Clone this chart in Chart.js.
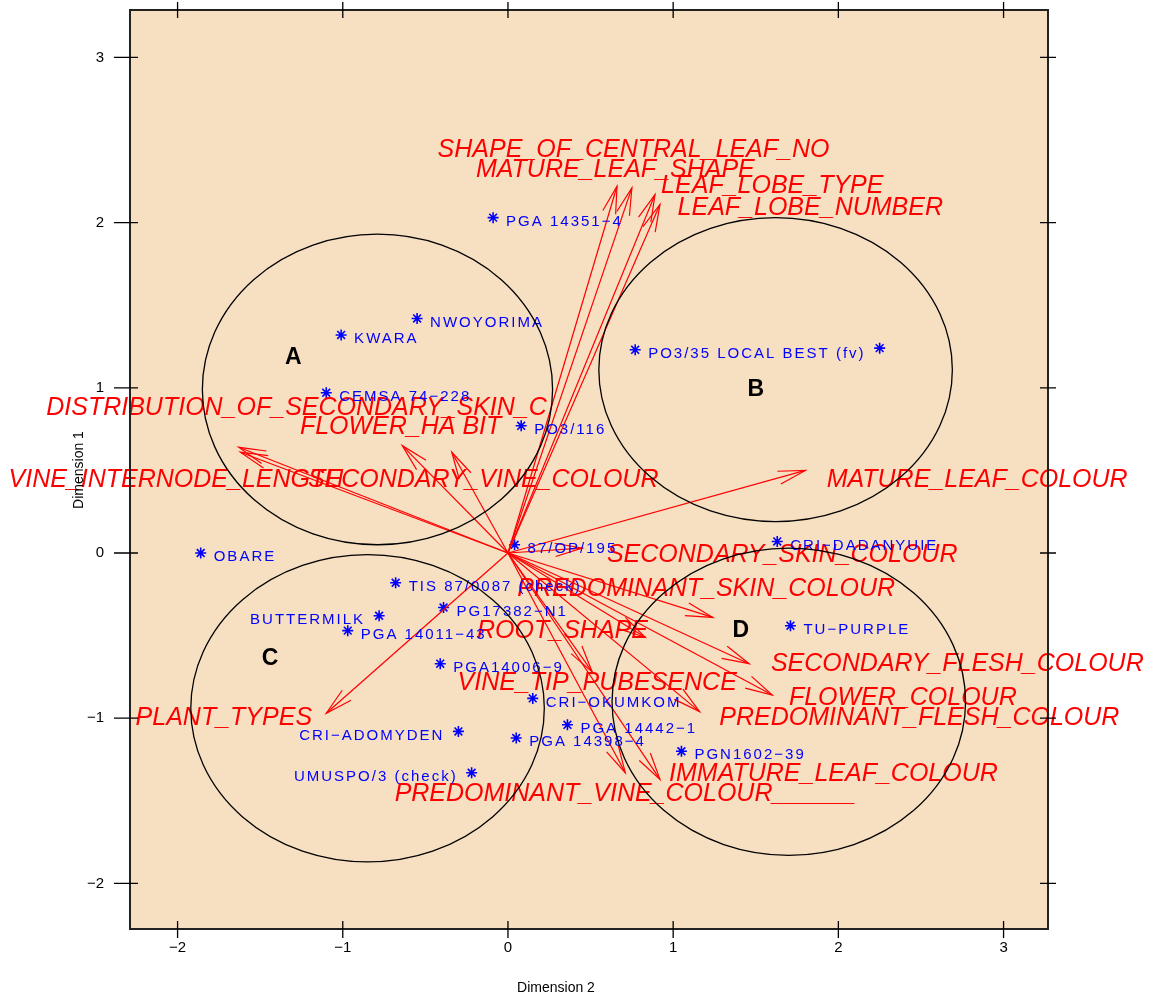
<!DOCTYPE html>
<html><head><meta charset="utf-8">
<script src="https://cdn.jsdelivr.net/npm/chart.js@4.4.0/dist/chart.umd.min.js"></script>
<style>html,body{margin:0;padding:0;background:#fff;}canvas{display:block;}</style>
</head><body>
<canvas id="c" width="1157" height="998"></canvas>
<script>
// ---- data ----
const genotypes = ['PGA 14351\u22124','NWOYORIMA','KWARA','CEMSA 74\u2212228','PO3/116','PO3/35 LOCAL BEST (fv)','','87/OP/195','CRI\u2212DADANYUIE','OBARE','TIS 87/0087 (check)','BUTTERMILK','PG17382\u2212N1','PGA 14011\u221243','TU\u2212PURPLE','PGA14006\u22129','CRI\u2212OKUMKOM','PGA 14442\u22121','PGA 14398\u22124','CRI\u2212ADOMYDEN','UMUSPO/3 (check)','PGN1602\u221239'];
const genoX = [-0.09,-0.55,-1.01,-1.10,0.08,0.77,2.25,0.04,1.63,-1.86,-0.68,-0.78,-0.39,-0.97,1.71,-0.41,0.15,0.36,0.05,-0.30,-0.22,1.05];
const genoY = [2.03,1.42,1.32,0.97,0.77,1.23,1.24,0.05,0.07,0.00,-0.18,-0.38,-0.33,-0.47,-0.44,-0.67,-0.88,-1.04,-1.12,-1.08,-1.33,-1.20];
const labelSide = ['r','r','r','r','r','r','r','r','r','r','r','l','r','r','r','r','r','r','r','l','l','r'];

const variables = ['SHAPE_OF_CENTRAL_LEAF_NO','MATURE_LEAF_SHAPE','LEAF_LOBE_TYPE','LEAF_LOBE_NUMBER','DISTRIBUTION_OF_SECONDARY_SKIN_C','FLOWER_HA BIT','VINE_INTERNODE_LENGTH','SECONDARY_VINE_COLOUR','MATURE_LEAF_COLOUR','SECONDARY_SKIN_COLOUR','PREDOMINANT_SKIN_COLOUR','ROOT_SHAPE','SECONDARY_FLESH_COLOUR','VINE_TIP_PUBESENCE','FLOWER_COLOUR','PREDOMINANT_FLESH_COLOUR','PLANT_TYPES','IMMATURE_LEAF_COLOUR','PREDOMINANT_VINE_COLOUR______'];
const varX = [0.66,0.75,0.89,0.92,-1.63,-0.64,-1.62,-0.34,1.80,0.45,1.24,0.83,1.46,0.51,1.60,1.16,-1.10,0.92,0.71];
const varY = [2.22,2.21,2.17,2.11,0.64,0.65,0.61,0.61,0.50,0.03,-0.39,-0.51,-0.67,-0.72,-0.86,-0.96,-0.97,-1.37,-1.33];
const varLabelX = [0.76,0.65,1.60,1.83,-1.28,-0.65,-2.01,-0.15,2.84,1.66,1.20,0.33,2.72,0.54,2.39,2.49,-1.72,1.97,0.71];
const varLabelY = [2.44,2.32,2.22,2.09,0.88,0.76,0.44,0.44,0.44,-0.01,-0.22,-0.47,-0.67,-0.79,-0.88,-1.00,-1.00,-1.34,-1.46];

const groupNames = ['A','B','C','D'];
const groupCX = [-0.79,1.62,-0.85,1.70];
const groupCY = [0.99,1.11,-0.94,-0.90];
const groupRX = [1.06,1.07,1.07,1.07];
const groupRY = [0.94,0.92,0.93,0.93];
const groupLetterX = [-1.30,1.50,-1.44,1.41];
const groupLetterY = [1.18,0.99,-0.64,-0.47];

const tickValues = [-2,-1,0,1,2,3];
const xRange = [-2.288,3.269];
const yRange = [-2.276,3.287];
const xTitle = 'Dimension 2';
const yTitle = 'Dimension 1';

// ---- chart ----
const datasets = [];
variables.forEach((v,i)=>{
  datasets.push({label:v,data:[{x:0,y:0},{x:varX[i],y:varY[i]}],showLine:true,borderColor:'#FF0000',borderWidth:1.2,pointRadius:0,fill:false});
});
datasets.push({label:'genotypes',data:genoX.map((x,i)=>({x:x,y:genoY[i]})),pointStyle:'star',pointRadius:5.5,pointBorderColor:'#0000FF',pointBorderWidth:1.6,borderColor:'#0000FF',showLine:false});

const minus = v => String(v).replace('-','\u2212');

const decor = {
  id:'decor',
  beforeDraw(chart){
    const {ctx,chartArea:a}=chart;
    ctx.save();ctx.fillStyle='#F7DFC1';ctx.fillRect(a.left,a.top,a.right-a.left,a.bottom-a.top);ctx.restore();
  },
  afterDatasetsDraw(chart){
    const {ctx,chartArea:a,scales:{x,y}}=chart;
    ctx.save();
    ctx.strokeStyle='#FF0000';ctx.lineWidth=1.2;
    const ox=x.getPixelForValue(0),oy=y.getPixelForValue(0);
    varX.forEach((vx,i)=>{
      const tx=x.getPixelForValue(vx),ty=y.getPixelForValue(varY[i]);
      const ang=Math.atan2(ty-oy,tx-ox),L=28,h=0.24;
      ctx.beginPath();
      ctx.moveTo(tx-L*Math.cos(ang-h),ty-L*Math.sin(ang-h));
      ctx.lineTo(tx,ty);
      ctx.lineTo(tx-L*Math.cos(ang+h),ty-L*Math.sin(ang+h));
      ctx.stroke();
    });
    ctx.fillStyle='#FF0000';ctx.font='italic 25px "Liberation Sans", Arial, sans-serif';
    ctx.textAlign='center';ctx.textBaseline='middle';
    variables.forEach((v,i)=>{ctx.fillText(v,x.getPixelForValue(varLabelX[i]),y.getPixelForValue(varLabelY[i]));});
    ctx.fillStyle='#0000FF';ctx.font='15px "Liberation Sans", Arial, sans-serif';
    try{ctx.letterSpacing='2px';}catch(e){}
    genotypes.forEach((g,i)=>{
      if(!g) return;
      const px=x.getPixelForValue(genoX[i]),py=y.getPixelForValue(genoY[i])+4;
      if(labelSide[i]==='l'){ctx.textAlign='right';ctx.fillText(g,px-14,py);}
      else{ctx.textAlign='left';ctx.fillText(g,px+13,py);}
    });
    try{ctx.letterSpacing='0px';}catch(e){}
    ctx.strokeStyle='#000';ctx.lineWidth=1.3;
    groupNames.forEach((n,i)=>{
      const cx=x.getPixelForValue(groupCX[i]),cy=y.getPixelForValue(groupCY[i]);
      const rx=Math.abs(x.getPixelForValue(groupCX[i]+groupRX[i])-cx);
      const ry=Math.abs(y.getPixelForValue(groupCY[i]+groupRY[i])-cy);
      ctx.beginPath();ctx.ellipse(cx,cy,rx,ry,0,0,Math.PI*2);ctx.stroke();
    });
    ctx.fillStyle='#000';ctx.font='bold 23px "Liberation Sans", Arial, sans-serif';ctx.textAlign='center';
    groupNames.forEach((n,i)=>{ctx.fillText(n,x.getPixelForValue(groupLetterX[i]),y.getPixelForValue(groupLetterY[i]));});
    ctx.restore();
  },
  afterDraw(chart){
    const {ctx,chartArea:a,scales:{x,y}}=chart;
    ctx.save();
    ctx.strokeStyle='#222';ctx.lineWidth=2;
    ctx.strokeRect(a.left,a.top,a.right-a.left,a.bottom-a.top);
    ctx.lineWidth=1.3;ctx.strokeStyle='#000';
    tickValues.forEach(v=>{
      const px=x.getPixelForValue(v),py=y.getPixelForValue(v);
      ctx.beginPath();
      ctx.moveTo(px,a.top-8);ctx.lineTo(px,a.top+8);
      ctx.moveTo(px,a.bottom-8);ctx.lineTo(px,a.bottom+9);
      ctx.moveTo(a.left-16,py);ctx.lineTo(a.left+8,py);
      ctx.moveTo(a.right-8,py);ctx.lineTo(a.right+8,py);
      ctx.stroke();
    });
    ctx.fillStyle='#000';ctx.font='14px "Liberation Sans", Arial, sans-serif';
    ctx.textAlign='center';ctx.textBaseline='middle';
    ctx.fillText(xTitle,556,988);
    ctx.translate(79,470);ctx.rotate(-Math.PI/2);ctx.fillText(yTitle,0,0);
    ctx.restore();
  }
};

new Chart(document.getElementById('c'),{
  type:'scatter',
  data:{datasets:datasets},
  options:{
    responsive:false,animation:false,devicePixelRatio:1,
    layout:{padding:{top:10,right:109,left:0,bottom:0}},
    plugins:{legend:{display:false},tooltip:{enabled:false}},
    scales:{
      x:{type:'linear',min:xRange[0],max:xRange[1],
        afterBuildTicks:s=>{s.ticks=tickValues.map(v=>({value:v}));},
        afterFit:s=>{s.height=69;s.paddingLeft=0;s.paddingRight=0;},
        grid:{display:false},border:{display:false},
        ticks:{padding:2,color:'#000',font:{family:'"Liberation Sans", Arial',size:15},callback:v=>minus(v),maxRotation:0}},
      y:{type:'linear',min:yRange[0],max:yRange[1],
        afterBuildTicks:s=>{s.ticks=tickValues.map(v=>({value:v}));},
        afterFit:s=>{s.width=130;s.paddingTop=0;s.paddingBottom=0;},
        grid:{display:false},border:{display:false},
        ticks:{padding:18,color:'#000',font:{family:'"Liberation Sans", Arial',size:15},callback:v=>minus(v)}}
    }
  },
  plugins:[decor]
});
</script>
</body></html>
